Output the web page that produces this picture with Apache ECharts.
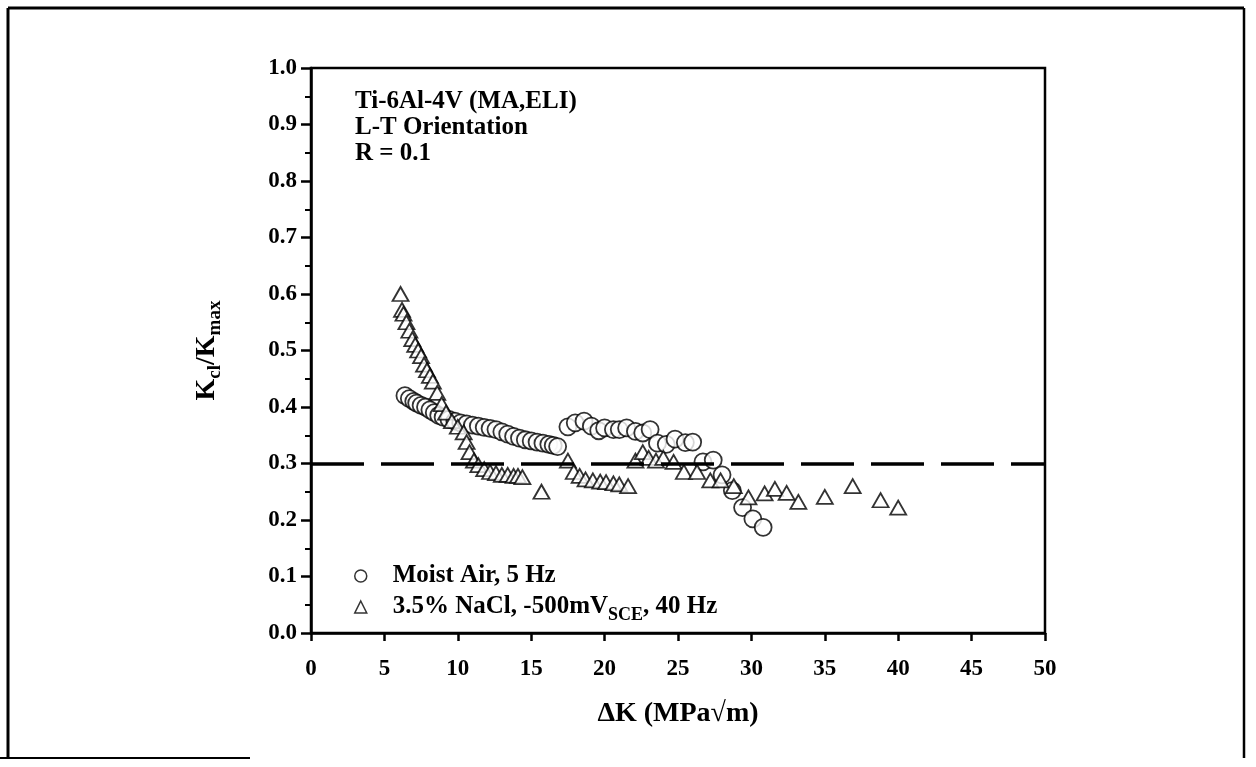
<!DOCTYPE html>
<html>
<head>
<meta charset="utf-8">
<script src="https://cdn.jsdelivr.net/npm/echarts@6/dist/echarts.min.js"></script>
<style>
  html, body { margin: 0; padding: 0; background: #fff; }
  #main { width: 1256px; height: 767px; }
</style>
</head>
<body>
<div id="main"></div>
<script>
// Moist Air, 5 Hz
const moistAirDK = [6.4, 6.7, 7.0, 7.2, 7.5, 7.8, 8.1, 8.4, 8.7, 9.0, 9.4, 9.8, 10.2, 10.6, 11.0, 11.4, 11.8, 12.2, 12.6, 13.0, 13.4, 13.8, 14.2, 14.6, 15.0, 15.4, 15.8, 16.2, 16.5, 16.8,
    17.5, 18.0, 18.6, 19.1, 19.6, 20.0, 20.6, 21.0, 21.5, 22.1, 22.6, 23.1, 23.6, 24.2, 24.8, 25.5, 26.0, 26.7, 27.4, 28.0, 28.7, 29.4, 30.1, 30.8];
const moistAirRatio = [0.42, 0.415, 0.41, 0.407, 0.403, 0.40, 0.395, 0.39, 0.385, 0.382, 0.378, 0.375, 0.372, 0.37, 0.368, 0.366, 0.364, 0.362, 0.36, 0.356, 0.352, 0.348, 0.345, 0.342, 0.34, 0.338, 0.336, 0.334, 0.332, 0.33,
    0.365, 0.372, 0.375, 0.366, 0.358, 0.363, 0.36, 0.36, 0.363, 0.357, 0.354, 0.36, 0.336, 0.334, 0.343, 0.337, 0.338, 0.303, 0.306, 0.28, 0.252, 0.222, 0.202, 0.187];

// 3.5% NaCl, -500mV SCE, 40 Hz
const naclDK = [6.1, 6.2, 6.3, 6.5, 6.7, 6.9, 7.1, 7.3, 7.5, 7.7, 7.9, 8.1, 8.3, 8.6, 8.9, 9.2, 9.6, 10.0, 10.4, 10.6, 10.8, 11.1, 11.4, 11.8, 12.2, 12.6, 13.0, 13.4, 13.8, 14.1, 14.4,
    15.7, 17.5, 17.9, 18.3, 18.7, 19.2, 19.7, 20.1, 20.6, 21.0, 21.6,
    22.1, 22.6, 23.0, 23.5, 24.0, 24.7, 25.4, 26.3, 27.2, 27.9, 28.8, 29.8, 30.9, 31.6, 32.4, 33.2, 35.0, 36.9, 38.8, 40.0];
const naclRatio = [0.60, 0.572, 0.565, 0.55, 0.535, 0.52, 0.51, 0.50, 0.49, 0.475, 0.465, 0.455, 0.445, 0.425, 0.405, 0.39, 0.375, 0.365, 0.355, 0.338, 0.32, 0.305, 0.297, 0.29, 0.285, 0.283, 0.28, 0.28, 0.278, 0.278, 0.276,
    0.25, 0.305, 0.285, 0.278, 0.272, 0.27, 0.268, 0.267, 0.265, 0.263, 0.26,
    0.305, 0.32, 0.31, 0.305, 0.31, 0.303, 0.285, 0.285, 0.27, 0.27, 0.26, 0.24, 0.247, 0.255, 0.248, 0.232, 0.241, 0.26, 0.235, 0.222];

const thresholdRatio = 0.3;
const annotationLines = ['Ti-6Al-4V (MA,ELI)', 'L-T Orientation', 'R = 0.1'];

const serif = '"Liberation Serif", "Times New Roman", serif';

function pairs(xs, ys) {
    return xs.map((x, i) => [x, ys[i]]);
}

const chart = echarts.init(document.getElementById('main'));

const option = {
    backgroundColor: '#fff',
    animation: false,
    grid: {
        left: 311,
        right: 211,
        top: 68,
        bottom: 134,
        show: true,
        borderColor: '#000',
        borderWidth: 2.5,
        backgroundColor: 'transparent'
    },
    legend: {
        orient: 'vertical',
        left: 349,
        top: 558,
        itemGap: 6,
        itemWidth: 12,
        itemHeight: 12,
        itemStyle: { color: '#fff', borderColor: '#000', borderWidth: 1.5 },
        formatter: function (name) {
            return name === 'nacl'
                ? '{m|3.5% NaCl, -500mV}{s|SCE}{m|, 40 Hz}'
                : '{m|Moist Air, 5 Hz}';
        },
        textStyle: {
            padding: [0, 0, 0, 21],
            rich: {
                m: { fontFamily: serif, fontWeight: 'bold', fontSize: 25, color: '#000', lineHeight: 26, verticalAlign: 'top' },
                s: { fontFamily: serif, fontWeight: 'bold', fontSize: 18, color: '#000', lineHeight: 18, verticalAlign: 'top', padding: [12, 0, 0, 0] }
            }
        },
        data: ['moist', 'nacl']
    },
    xAxis: {
        type: 'value',
        min: 0,
        max: 50,
        interval: 5,
        name: 'ΔK (MPa√m)',
        nameLocation: 'middle',
        nameGap: 67,
        nameTextStyle: { fontFamily: serif, fontWeight: 'bold', fontSize: 28, color: '#000' },
        axisLine: { lineStyle: { color: '#000', width: 2.5 } },
        axisTick: { inside: false, length: 8, lineStyle: { color: '#000', width: 2.5 } },
        axisLabel: { margin: 25, fontFamily: serif, fontWeight: 'bold', fontSize: 23, color: '#000' },
        splitLine: { show: false }
    },
    yAxis: {
        type: 'value',
        min: 0,
        max: 1,
        interval: 0.1,
        name: '{m|K}{s|cl}{m|/K}{s|max}',
        nameLocation: 'middle',
        nameRotate: 90,
        nameGap: 90,
        nameTextStyle: {
            rich: {
                m: { fontFamily: serif, fontWeight: 'bold', fontSize: 28, color: '#000', lineHeight: 28, verticalAlign: 'top' },
                s: { fontFamily: serif, fontWeight: 'bold', fontSize: 19, color: '#000', lineHeight: 19, verticalAlign: 'top', padding: [13, 0, 0, 0] }
            }
        },
        axisLine: { lineStyle: { color: '#000', width: 2.5 } },
        axisTick: { inside: false, length: 10, lineStyle: { color: '#000', width: 2.5 } },
        minorTick: { show: true, splitNumber: 2, length: 6, lineStyle: { color: '#000', width: 2 } },
        axisLabel: {
            margin: 14,
            fontFamily: serif, fontWeight: 'bold', fontSize: 23, color: '#000',
            formatter: v => v.toFixed(1)
        },
        splitLine: { show: false }
    },
    graphic: [
        // scanned page frame
        { type: 'line', shape: { x1: 8, y1: 8, x2: 1244, y2: 8 }, style: { stroke: '#000', lineWidth: 3 } },
        { type: 'line', shape: { x1: 8, y1: 8, x2: 8, y2: 758 }, style: { stroke: '#000', lineWidth: 3 } },
        { type: 'line', shape: { x1: 1244, y1: 8, x2: 1244, y2: 758 }, style: { stroke: '#000', lineWidth: 2.5 } },
        { type: 'line', shape: { x1: 0, y1: 758, x2: 250, y2: 758 }, style: { stroke: '#000', lineWidth: 2 } },
        {
            type: 'text',
            left: 355,
            top: 89,
            style: {
                text: annotationLines.join('\n'),
                fontFamily: serif,
                fontWeight: 'bold',
                fontSize: 25,
                lineHeight: 26,
                fill: '#000'
            }
        }
    ],
    series: [
        {
            name: 'moist',
            type: 'scatter',
            symbol: 'circle',
            symbolSize: 17,
            itemStyle: { color: '#fff', borderColor: '#000', borderWidth: 1.8 },
            data: pairs(moistAirDK, moistAirRatio),
            markLine: {
                silent: true,
                symbol: 'none',
                label: { show: false },
                lineStyle: { color: '#000', width: 3.5, type: [53, 17] },
                data: [{ yAxis: thresholdRatio }]
            },
            z: 3
        },
        {
            name: 'nacl',
            type: 'scatter',
            symbol: 'triangle',
            symbolSize: [16, 14],
            itemStyle: { color: '#fff', borderColor: '#000', borderWidth: 1.8 },
            data: pairs(naclDK, naclRatio),
            z: 4
        }
    ]
};

chart.setOption(option);
</script>
</body>
</html>
